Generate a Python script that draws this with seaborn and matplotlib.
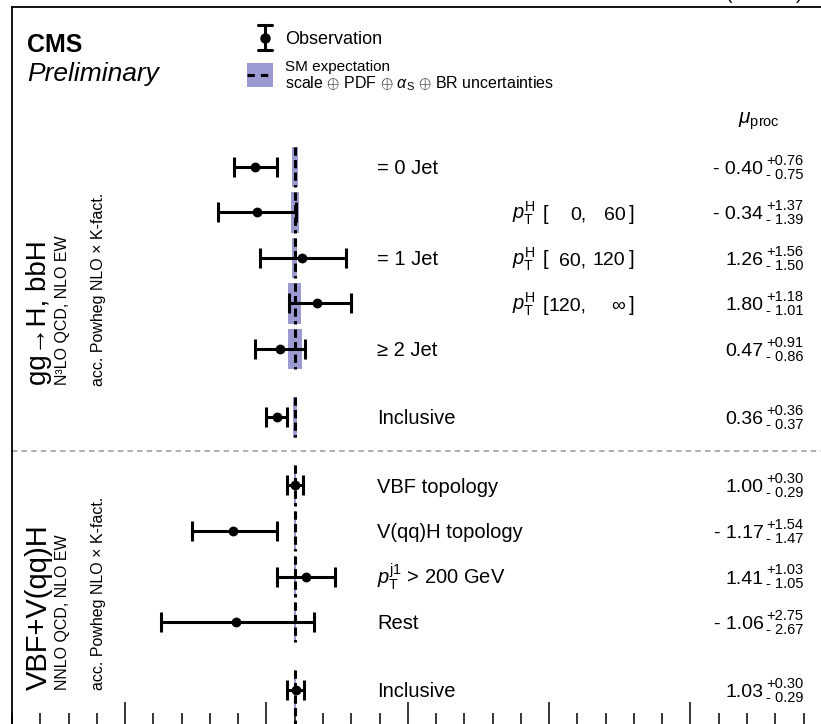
import numpy as np
import pandas as pd
import matplotlib
matplotlib.use("Agg")
import matplotlib.pyplot as plt
from matplotlib.lines import Line2D
from matplotlib.patches import Rectangle
from matplotlib.ticker import MultipleLocator
import seaborn as sns

# ---------------- data ----------------
ggh_labels = ["= 0 Jet", "", "= 1 Jet", "", "\u2265 2 Jet", "Inclusive"]
ggh_pt_lo = ["", "0,", "60,", "120,", "", ""]
ggh_pt_hi = ["", "60", "120", "\u221e", "", ""]
ggh_mu = [-0.40, -0.34, 1.26, 1.80, 0.47, 0.36]
ggh_up = [0.76, 1.37, 1.56, 1.18, 0.91, 0.36]
ggh_dn = [0.75, 1.39, 1.50, 1.01, 0.86, 0.37]
ggh_th = [0.10, 0.14, 0.09, 0.23, 0.25, 0.07]

vbf_labels = ["VBF topology", "V(qq)H topology",
              r"$p_{\mathrm{T}}^{\mathrm{j1}}$ > 200 GeV", "Rest", "Inclusive"]
vbf_mu = [1.00, -1.17, 1.41, -1.06, 1.03]
vbf_up = [0.30, 1.54, 1.03, 2.75, 0.30]
vbf_dn = [0.29, 1.47, 1.05, 2.67, 0.29]
vbf_th = [0.04, 0.04, 0.04, 0.04, 0.03]

x_major = [-5, 0, 5, 10, 15, 20]

# ---------------- style ----------------
sns.set_theme(style="white")
plt.rcParams.update({
    "font.family": ["Liberation Sans", "DejaVu Sans"],
    "mathtext.fontset": "custom",
    "mathtext.rm": "Liberation Sans",
    "mathtext.it": "Liberation Sans:italic",
    "mathtext.bf": "Liberation Sans:bold",
    "axes.edgecolor": "black",
    "axes.linewidth": 1.3,
    "text.color": "black",
})

BAND = "#9b9bd2"
W, H, DPI = 821, 724, 100
fig = plt.figure(figsize=(W / DPI, H / DPI), dpi=DPI)
fig.patch.set_facecolor("white")

# layout (pixels)
AX_L, AX_T, AX_B = 12, 7, 726
XMIN, XMAX = -9.0, 20.5
PPU = 28.27
ROW_PX, ROW0_PX = 45.5, 167
ax_right = AX_L + (XMAX - XMIN) * PPU
ax = fig.add_axes([AX_L / W, 1 - AX_B / H, (ax_right - AX_L) / W, (AX_B - AX_T) / H])
y_top = -(ROW0_PX - AX_T) / ROW_PX
y_bot = (AX_B - ROW0_PX) / ROW_PX


def rows(n, start):
    return [start + i for i in range(n - 1)] + [start + n - 2 + 1.5]


ggh = pd.DataFrame({"label": ggh_labels, "mu": ggh_mu, "up": ggh_up, "dn": ggh_dn,
                    "th": ggh_th, "y": rows(len(ggh_mu), 0)})
vbf = pd.DataFrame({"label": vbf_labels, "mu": vbf_mu, "up": vbf_up, "dn": vbf_dn,
                    "th": vbf_th, "y": rows(len(vbf_mu), 7)})
df = pd.concat([ggh, vbf], ignore_index=True)
sep_y = 6.25

# theory bands
ax.barh(df["y"], 2 * df["th"], left=1 - df["th"], height=0.9, color=BAND, lw=0, zorder=1)
# SM dashed line per row
ymax = [y + 0.44 for y in df["y"]]
ymax[-1] = y_bot + 0.5
ax.vlines([1.0] * len(df), [y - 0.44 for y in df["y"]], ymax, colors="black",
          linestyles=[(0, (2.7, 1.4))], lw=2.2, zorder=2)
# separator
ax.axhline(sep_y, color="#999999", lw=1.1, ls=(0, (3.5, 2.8)), zorder=1)
# observations
ax.errorbar(df["mu"], df["y"], xerr=[df["dn"], df["up"]], fmt="none", ecolor="black",
            elinewidth=2.2, capsize=7, capthick=2.2, zorder=3)
sns.scatterplot(data=df, x="mu", y="y", color="black", s=50, edgecolor="black",
                linewidth=0, ax=ax, zorder=4, legend=False)

ax.set_xlim(XMIN, XMAX)
ax.set_ylim(y_bot, y_top)
ax.set_xlabel("")
ax.set_ylabel("")
ax.set_yticks([])
ax.set_xticks(x_major)
ax.xaxis.set_minor_locator(MultipleLocator(1))
ax.tick_params(axis="x", which="major", direction="in", length=17, width=1.1,
               bottom=True, top=False, labelbottom=False, color="black")
ax.tick_params(axis="x", which="minor", direction="in", length=9.4, width=1.1,
               bottom=True, top=False, color="black")
for s in ax.spines.values():
    s.set_color("black")
    s.set_linewidth(1.3)


def xd(px):
    return (px - 266) / PPU


def yd(px):
    return (px - ROW0_PX) / ROW_PX


# table texts
LAB_FS, VAL_FS, SCR_FS = 14.5, 14, 10.5
lab_off = 7.2 / ROW_PX
val_off = 7.0 / ROW_PX
for _, r in df.iterrows():
    if r["label"]:
        ax.text(xd(377), r["y"] + lab_off, r["label"], fontsize=LAB_FS, va="baseline", ha="left")
    m = r["mu"]
    mtxt = ("- %.2f" % abs(m)) if m < 0 else ("%.2f" % m)
    ax.text(xd(763), r["y"] + val_off, mtxt, fontsize=VAL_FS, va="baseline", ha="right")
    ax.text(xd(803), r["y"] + (-7 + 5) / ROW_PX, "+%.2f" % r["up"], fontsize=SCR_FS,
            va="baseline", ha="right")
    ax.text(xd(803), r["y"] + (7 + 5) / ROW_PX, "- %.2f" % r["dn"], fontsize=SCR_FS,
            va="baseline", ha="right")

for i, (lo, hi) in enumerate(zip(ggh_pt_lo, ggh_pt_hi)):
    if not lo:
        continue
    y = ggh["y"][i] + lab_off
    ax.text(xd(512), y, r"$p_{\mathrm{T}}^{\mathrm{H}}$", fontsize=LAB_FS, va="baseline")
    ax.text(xd(542), y, "[", fontsize=LAB_FS, va="baseline")
    ax.text(xd(586), y, lo, fontsize=14, va="baseline", ha="right")
    ax.text(xd(625), y, hi, fontsize=14, va="baseline", ha="right")
    ax.text(xd(628), y, "]", fontsize=LAB_FS, va="baseline")

ax.text(xd(738), yd(124), r"$\mu_{\mathrm{proc}}$", fontsize=15, va="baseline", ha="left")


# ---------------- header (figure pixels) ----------------
def fx(px):
    return px / W


def fy(py):
    return 1 - py / H


fig.text(fx(803), fy(-1), r"138 fb$^{-1}$ (13 TeV)", fontsize=14, ha="right", va="baseline")
fig.text(fx(27), fy(52), "CMS", fontsize=18, fontweight="bold", va="baseline")
fig.text(fx(27), fy(81), "Preliminary", fontsize=19, style="italic", va="baseline")

# legend: observation
for art in [
    Line2D([fx(265), fx(265)], [fy(25), fy(50)], lw=2.2, color="black"),
    Line2D([fx(258), fx(272)], [fy(25), fy(25)], lw=2.2, color="black"),
    Line2D([fx(258), fx(272)], [fy(50), fy(50)], lw=2.2, color="black"),
    Line2D([fx(265)], [fy(37.5)], marker="o", ms=6.5, color="black", lw=0),
]:
    art.set_transform(fig.transFigure)
    fig.add_artist(art)
fig.text(fx(285), fy(44), "Observation", fontsize=13, va="baseline")

# legend: SM expectation
fig.add_artist(Rectangle((fx(247), fy(87)), 26 / W, 24 / H, transform=fig.transFigure,
                         color=BAND, lw=0))
dl = Line2D([fx(247), fx(273)], [fy(75), fy(75)], lw=2.2, color="black",
            ls=(0, (2.4, 2.0)), transform=fig.transFigure)
fig.add_artist(dl)
fig.text(fx(285), fy(71.5), "SM expectation", fontsize=11, va="baseline")
fig.text(fx(285), fy(88), r"scale $\oplus$ PDF $\oplus$ $\alpha_{\mathrm{S}}$ $\oplus$ BR uncertainties",
         fontsize=11.5, va="baseline")

# left vertical labels
side = dict(rotation=90, rotation_mode="anchor", ha="left", va="baseline")
fig.text(fx(46), fy(385), "gg\u2192H, bbH", fontsize=20, **side)
fig.text(fx(67), fy(385), "N\u00b3LO QCD, NLO EW", fontsize=11.5, **side)
fig.text(fx(103), fy(386), "acc. Powheg NLO \u00d7 K-fact.", fontsize=11.5, **side)
fig.text(fx(47), fy(690), "VBF+V(qq)H", fontsize=21, **side)
fig.text(fx(67), fy(690), "NNLO QCD, NLO EW", fontsize=11.5, **side)
fig.text(fx(103), fy(690), "acc. Powheg NLO \u00d7 K-fact.", fontsize=11.5, **side)

fig.savefig("out.png", dpi=DPI, facecolor="white")
